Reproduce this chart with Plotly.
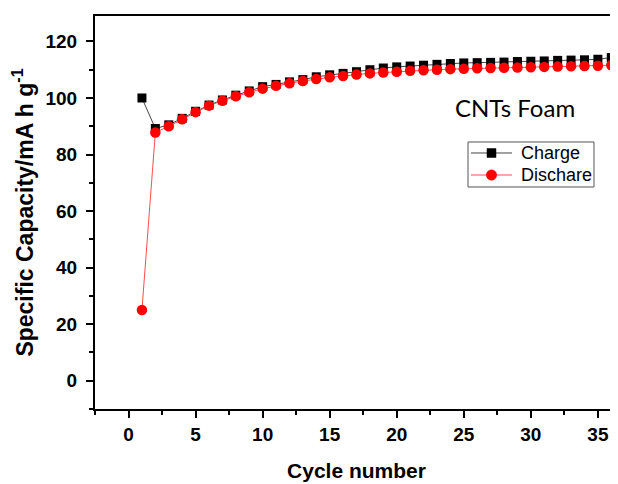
import plotly.graph_objects as go

cycles = list(range(1, 37))
charge = [100, 89.2, 90.5, 92.8, 95.3, 97.5, 99.3, 101, 102.5, 104, 104.8, 105.7,
          106.5, 107.5, 108.2, 108.7, 109.3, 110, 110.6, 111, 111.3, 111.6, 111.9,
          112.2, 112.4, 112.5, 112.6, 112.7, 112.9, 113, 113.1, 113.3, 113.4, 113.5,
          113.7, 114.3]
discharge = [25, 87.8, 90, 92.5, 95, 97.3, 99, 100.6, 102, 103.3, 104.3, 105.2,
             106, 106.7, 107.3, 107.8, 108.3, 108.7, 109, 109.3, 109.6, 109.8, 110,
             110.2, 110.3, 110.5, 110.6, 110.7, 110.8, 110.9, 111, 111.1, 111.2,
             111.3, 111.4, 111.6]
series_names = ["Charge", "Dischare"]
x_ticks = [0, 5, 10, 15, 20, 25, 30, 35]
y_ticks = [0, 20, 40, 60, 80, 100, 120]

CH_LINE, CH_MK = "#444444", "black"
DC_LINE, DC_MK = "#ff4d4d", "#ff0000"

fig = go.Figure()
fig.add_trace(go.Scatter(x=cycles, y=charge, mode="lines+markers", name=series_names[0],
                         line=dict(color=CH_LINE, width=1),
                         marker=dict(symbol="square", size=9, color=CH_MK)))
fig.add_trace(go.Scatter(x=cycles, y=discharge, mode="lines+markers", name=series_names[1],
                         line=dict(color=DC_LINE, width=1),
                         marker=dict(symbol="circle", size=10.5, color=DC_MK)))

axis_common = dict(showline=True, linecolor="black", linewidth=2,
                   ticks="outside", ticklen=7, tickwidth=2, tickcolor="black",
                   showgrid=False, zeroline=False, automargin=False,
                   tickfont=dict(family="Liberation Sans, Arial", size=19, color="black"))

fig.update_xaxes(range=[-2.5, 36.5], tickvals=x_ticks, mirror=True,
                 ticktext=[f"<b>{v}</b>" for v in x_ticks],
                 minor=dict(tickvals=[-2.5, 2.5, 7.5, 12.5, 17.5, 22.5, 27.5, 32.5],
                            ticks="outside", ticklen=4, tickwidth=2, tickcolor="black"),
                 title=dict(text="<b>Cycle number</b>", standoff=20,
                            font=dict(family="Liberation Sans, Arial", size=21, color="black")),
                 **axis_common)
fig.update_yaxes(range=[-10, 129], tickvals=y_ticks, mirror=False,
                 ticktext=[f"<b>{v}</b>" for v in y_ticks],
                 ticklabelstandoff=5,
                 minor=dict(tickvals=[-10, 10, 30, 50, 70, 90, 110],
                            ticks="outside", ticklen=4, tickwidth=2, tickcolor="black"),
                 title=dict(text="<b>Specific Capacity/mA h g<sup>-1</sup></b>", standoff=14,
                            font=dict(family="Liberation Sans, Arial", size=23, color="black")),
                 **axis_common)

fig.add_annotation(x=0.803, y=0.768, xref="paper", yref="paper", xanchor="center", yanchor="middle",
                   text="CNTs Foam", showarrow=False,
                   font=dict(family="Lato, Open Sans", size=24, color="black"))

# custom legend box (paper coordinates) to match the compact framed legend
lx0, lx1, ly0, ly1 = 0.7132, 0.9541, 0.5649, 0.6794
fig.add_shape(type="rect", xref="paper", yref="paper", x0=lx0, x1=lx1, y0=ly0, y1=ly1,
              line=dict(color="#555555", width=1), fillcolor="white", layer="above")
rows = [0.6514, 0.5954]
seg_x0, seg_x1, mk_x = 0.7189, 0.7973, 0.7581
px_x, px_y = 1 / 523, 1 / 393
styles = [(CH_LINE, CH_MK, "square", 4.5), (DC_LINE, DC_MK, "circle", 5.2)]
for name, ry, (lc, mc, sym, r) in zip(series_names, rows, styles):
    fig.add_shape(type="line", xref="paper", yref="paper", x0=seg_x0, x1=seg_x1, y0=ry, y1=ry,
                  line=dict(color=lc, width=1), layer="above")
    fig.add_shape(type="rect" if sym == "square" else "circle", xref="paper", yref="paper",
                  x0=mk_x - r * px_x, x1=mk_x + r * px_x, y0=ry - r * px_y, y1=ry + r * px_y,
                  line=dict(color=mc, width=0.5), fillcolor=mc, layer="above")
    fig.add_annotation(x=0.8107, y=ry, xref="paper", yref="paper", xanchor="left", yanchor="middle",
                       text=name, showarrow=False,
                       font=dict(family="Liberation Sans, Arial", size=18, color="black"))

# page body has an 8px default margin; compensate so the plot area lands where the reference has it
fig.update_layout(
    width=610, height=476,
    margin=dict(l=87, r=0, t=8, b=75),
    plot_bgcolor="white", paper_bgcolor="white",
    showlegend=False,
)

fig.write_html("out.html")
